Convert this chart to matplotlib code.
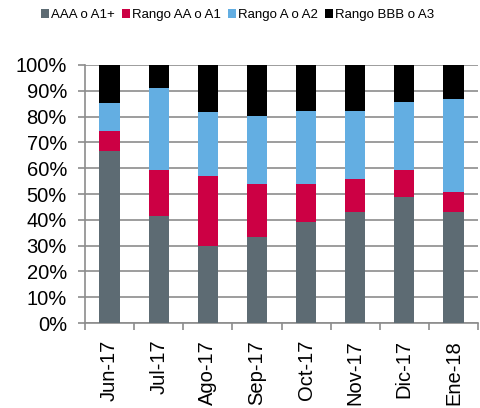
import numpy as np
import matplotlib
matplotlib.use("Agg")
import matplotlib.pyplot as plt
from matplotlib.ticker import FuncFormatter

plt.rcParams['font.family'] = ['Liberation Sans', 'DejaVu Sans']

# Data (percent of total)
months = ['Jun-17', 'Jul-17', 'Ago-17', 'Sep-17', 'Oct-17', 'Nov-17', 'Dic-17', 'Ene-18']
aaa = [66.7, 41.4, 29.8, 33.5, 39.0, 43.1, 49.0, 43.1]
aa = [7.8, 18.0, 27.1, 20.2, 14.7, 12.9, 10.4, 7.6]
a = [10.9, 31.8, 24.9, 26.6, 28.4, 26.2, 26.3, 35.9]
bbb = [14.6, 8.8, 18.2, 19.7, 17.9, 17.8, 14.3, 13.4]

series = [aaa, aa, a, bbb]
labels = ['AAA o A1+', 'Rango AA o A1', 'Rango A o A2', 'Rango BBB o A3']
colors = ['#5d6b73', '#cc0044', '#63aee2', '#000000']

fig = plt.figure(figsize=(4.8, 4.08), dpi=100)
ax = fig.add_axes([0.177, 0.208, 0.819, 0.633])

x = np.arange(len(months))
bottom = np.zeros(len(months))
for vals, lab, col in zip(series, labels, colors):
    ax.bar(x, vals, 0.41, bottom=bottom, color=col, label=lab, zorder=3)
    bottom += np.array(vals)

ax.set_xlim(-0.5, len(months) - 0.5)
ax.set_ylim(0, 100)
ax.set_yticks(np.arange(0, 101, 10))
ax.yaxis.set_major_formatter(FuncFormatter(lambda v, p: f'{int(v)}%'))
ax.grid(axis='y', color='#8c8c8c', linewidth=1.2, zorder=0)

ax.set_xticks(x)
ax.set_xticklabels(months, rotation=90)
ax.set_xticks(np.arange(-0.5, len(months), 1), minor=True)
ax.tick_params(axis='x', which='major', length=0, pad=12, labelsize=14.5)
ax.tick_params(axis='x', which='minor', length=5, color='#8c8c8c', width=1.2)
ax.tick_params(axis='y', length=5, color='#8c8c8c', width=1.2, labelsize=14.5, pad=8)

for side in ['top', 'right']:
    ax.spines[side].set_visible(False)
for side in ['left', 'bottom']:
    ax.spines[side].set_color('#8c8c8c')
    ax.spines[side].set_linewidth(1.2)

fig.legend(loc='upper center', bbox_to_anchor=(0.495, 1.0), ncol=4, frameon=False,
           fontsize=9.5, handlelength=0.65, handleheight=0.65, handletextpad=0.15,
           columnspacing=0.5, borderaxespad=0.3)

fig.savefig('out.png', dpi=100)
